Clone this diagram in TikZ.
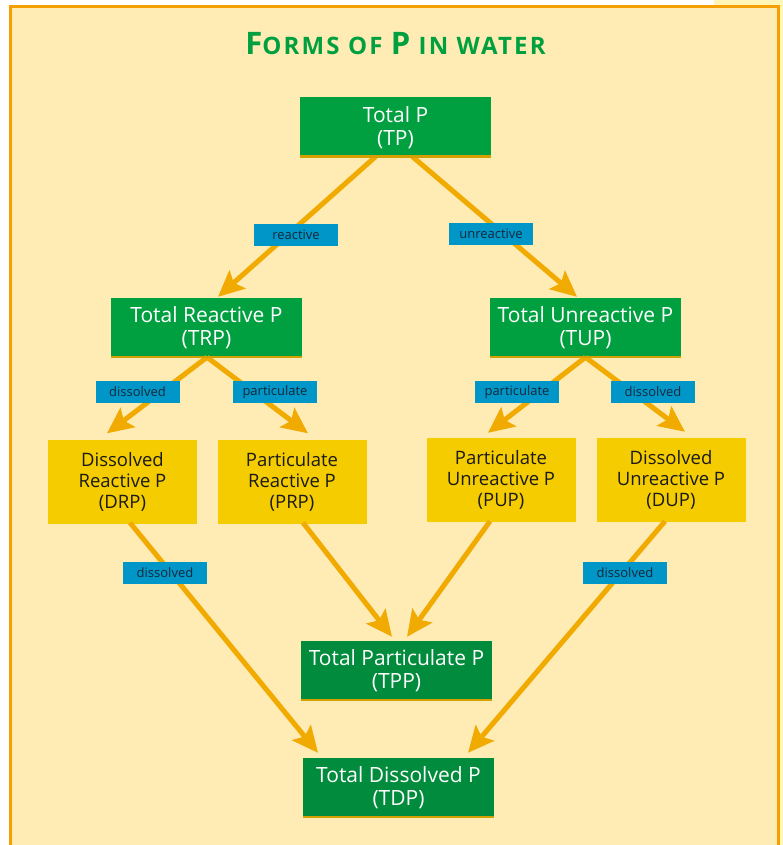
\documentclass[tikz,border=0pt]{standalone}
\usepackage{fontspec}
\setmainfont{Open Sans}
\usetikzlibrary{arrows.meta,calc}
\definecolor{bgc}{HTML}{FFECB4}
\definecolor{framec}{HTML}{F5A000}
\definecolor{greenA}{HTML}{00A040}
\definecolor{greenB}{HTML}{008C3C}
\definecolor{yelbox}{HTML}{F5CC00}
\definecolor{bluel}{HTML}{0096C8}
\definecolor{arrowc}{HTML}{F0AA00}
\definecolor{goldline}{HTML}{D4A000}
\definecolor{labtext}{HTML}{142838}
\definecolor{paleyel}{HTML}{FFF6B8}
\definecolor{darktext}{HTML}{1A1A1A}
\tikzset{
 gbox/.style={fill=greenA, text=white, minimum width=191pt, minimum height=60pt, inner sep=0pt, align=center, font=\fontsize{21}{23}\selectfont},
 gboxdark/.style={gbox, fill=greenB},
 ybox/.style={fill=yelbox, text=darktext, minimum width=149pt, minimum height=84pt, inner sep=0pt, align=center, font=\fontsize{18.5}{21}\selectfont},
 lab/.style={fill=bluel, text=labtext, minimum width=84pt, minimum height=22pt, inner sep=0pt, font=\fontsize{13}{13}\selectfont},
 arr/.style={draw=arrowc, line width=5pt, -{Stealth[length=26pt,width=24pt,inset=5pt]}},
}
\begin{document}
\begin{tikzpicture}[x=1pt,y=-1pt]
\useasboundingbox (0,0) rectangle (783,845);
\fill[white] (0,0) rectangle (783,845);
\fill[paleyel] (714,0) rectangle (783,845);
\fill[bgc] (10.5,6.5) rectangle (778.5,850);
\draw[framec, line width=3pt] (10.5,850) -- (10.5,6.5) -- (778.5,6.5) -- (778.5,850);

\node[anchor=base, text=greenA, font=\bfseries\addfontfeature{LetterSpace=9}] (title) at (395.5,55)
 {{\fontsize{31}{31}\selectfont F}{\fontsize{24}{24}\selectfont ORMS OF }{\fontsize{31}{31}\selectfont P}{\fontsize{24}{24}\selectfont{} IN WATER}};

% node placement
\coordinate (cTP) at (395.5,127.5);
\coordinate (cTRP) at (206.5,328);
\coordinate (cTUP) at (585.5,328);
\coordinate (cDRP) at (122.5,481.5);
\coordinate (cPRP) at (292,481.5);
\coordinate (cPUP) at (501,480);
\coordinate (cDUP) at (671,480);
\coordinate (cTPP) at (396.5,671);
\coordinate (cTDP) at (398.5,788);

\node[gbox] (TP) at (cTP) {Total P\\(TP)};
\node[gbox] (TRP) at (cTRP) {Total Reactive P\\(TRP)};
\node[gbox] (TUP) at (cTUP) {Total Unreactive P\\(TUP)};
\node[ybox] (DRP) at (cDRP) {Dissolved\\Reactive P\\(DRP)};
\node[ybox] (PRP) at (cPRP) {Particulate\\Reactive P\\(PRP)};
\node[ybox] (PUP) at (cPUP) {Particulate\\Unreactive P\\(PUP)};
\node[ybox] (DUP) at (cDUP) {Dissolved\\Unreactive P\\(DUP)};
\node[gboxdark] (TPP) at (cTPP) {Total Particulate P\\(TPP)};
\node[gboxdark] (TDP) at (cTDP) {Total Dissolved P\\(TDP)};

% arrows
\draw[arr] ($(TP.south)+(-20,-1)$) -- ($(TRP.north)+(11.5,-1)$);
\draw[arr] ($(TP.south)+(17,-1)$) -- ($(TUP.north)+(-8.5,-1)$);
\draw[arr] ($(TRP.south)+(0.5,-1)$) -- ($(DRP.north)+(-15.5,-6)$);
\draw[arr] ($(TRP.south)+(0.5,-1)$) -- ($(PRP.north)+(16,-6)$);
\draw[arr] ($(TUP.south)+(0,-1)$) -- ($(PUP.north)+(-13,-5)$);
\draw[arr] ($(TUP.south)+(0,-1)$) -- ($(DUP.north)+(14,-6)$);
\draw[arr] ($(DRP.south)+(7.5,-1)$) -- ($(TDP.north)+(-80.5,-5)$);
\draw[arr] ($(PRP.south)+(11,-1)$) -- ($(TPP.north)+(-4.5,-4)$);
\draw[arr] ($(PUP.south)+(-11,-1)$) -- ($(TPP.north)+(10.5,-4)$);
\draw[arr] ($(DUP.south)+(-6,-1)$) -- ($(TDP.north)+(69.5,-5)$);

% gold bottom lines of green boxes
\foreach \n in {TP,TRP,TUP,TPP,TDP}{
  \draw[goldline, line width=2.4pt] ($(\n.south west)+(0,-1.2)$) -- ($(\n.south east)+(0,-1.2)$);
}

% labels
\node[lab] (l1) at (296,234.5) {reactive};
\node[lab] (l2) at (491,234) {unreactive};
\node[lab] (l3) at (137.5,392) {dissolved};
\node[lab] (l4) at (275,392) {particulate};
\node[lab] (l5) at (517,392) {particulate};
\node[lab] (l6) at (653,392) {dissolved};
\node[lab] (l7) at (165,573) {dissolved};
\node[lab] (l8) at (625,573) {dissolved};
\end{tikzpicture}
\end{document}
